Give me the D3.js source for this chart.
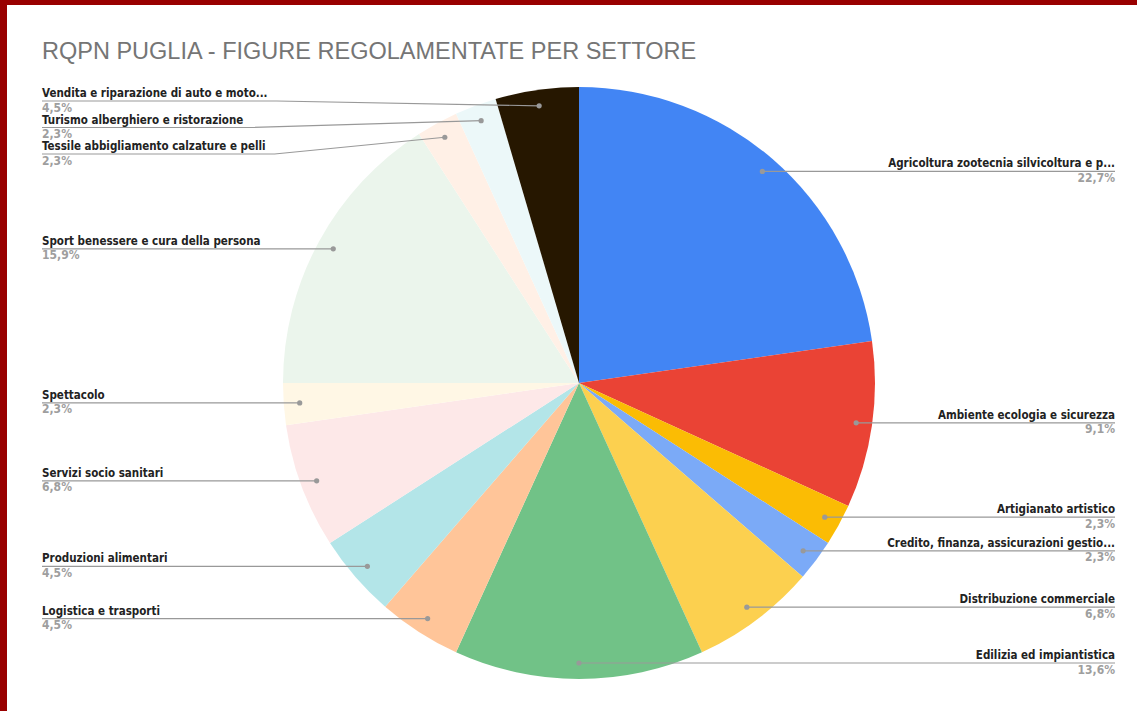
<!DOCTYPE html>
<html>
<head>
<meta charset="utf-8">
<script src="https://cdn.jsdelivr.net/npm/d3@7"></script>
<style>
  body { margin: 0; background: #fff; }
  svg { display: block; }
</style>
</head>
<body>
<svg width="1137" height="711"></svg>
<script>
// Sectors, clockwise from the top
const categories = [
  "Agricoltura zootecnia silvicoltura e p...",
  "Ambiente ecologia e sicurezza",
  "Artigianato artistico",
  "Credito, finanza, assicurazioni gestio...",
  "Distribuzione commerciale",
  "Edilizia ed impiantistica",
  "Logistica e trasporti",
  "Produzioni alimentari",
  "Servizi socio sanitari",
  "Spettacolo",
  "Sport benessere e cura della persona",
  "Tessile abbigliamento calzature e pelli",
  "Turismo alberghiero e ristorazione",
  "Vendita e riparazione di auto e moto..."
];
// number of regulated figures per sector
const counts = [10, 4, 1, 1, 3, 6, 2, 2, 3, 1, 7, 1, 1, 2];
const colors = [
  "#4285f4", "#ea4335", "#fbbc04", "#7baaf7", "#fcd04f", "#71c287", "#ffc599",
  "#b3e5e8", "#fde8e8", "#fff7e5", "#ebf5ec", "#fff0e6", "#ecf8f9", "#261700"
];

const svg = d3.select("svg"),
  cx = 579, cy = 383,
  radius = 296,
  dotRadius = 280,
  gap = 26.5;

// frame
svg.append("rect").attr("x", 0).attr("y", 0).attr("width", 7).attr("height", 711).attr("fill", "#990000");
svg.append("rect").attr("x", 0).attr("y", 0).attr("width", 1137).attr("height", 5).attr("fill", "#990000");

svg.append("text")
  .attr("x", 42)
  .attr("y", 59)
  .attr("font-family", "Liberation Sans, Arial")
  .style("font-size", "23.5px")
  .attr("fill", "#757575")
  .text("RQPN PUGLIA - FIGURE REGOLAMENTATE PER SETTORE");

const total = d3.sum(counts);
const color = d3.scaleOrdinal(categories, colors);

const pie = d3.pie().sort(null).value(d => d.value);
const data = pie(categories.map((c, i) => ({ name: c, value: counts[i] })));

const arc = d3.arc().innerRadius(0).outerRadius(radius);
const dotArc = d3.arc().innerRadius(dotRadius).outerRadius(dotRadius);

const g = svg.append("g").attr("transform", "translate(" + cx + "," + cy + ")");

g.selectAll("path.slice")
  .data(data)
  .enter()
  .append("path")
  .attr("class", "slice")
  .attr("fill", d => color(d.data.name))
  .attr("d", arc);

// label layout: cluster overlapping labels, center them, keep inside pie height
function layout(items) {
  items.sort((a, b) => a.dy - b.dy);
  let clusters = items.map(d => ({ items: [d] }));
  const minY = cy - radius + 14, maxY = cy + radius - 13;
  function place(c) {
    const n = c.items.length;
    let start = d3.mean(c.items, d => d.dy) - (n - 1) * gap / 2;
    start = Math.max(minY, Math.min(start, maxY - (n - 1) * gap));
    c.items.forEach((d, i) => d.ly = start + i * gap);
  }
  clusters.forEach(place);
  let merged = true;
  while (merged) {
    merged = false;
    for (let i = 0; i < clusters.length - 1; i++) {
      const a = clusters[i], b = clusters[i + 1];
      if (b.items[0].ly - a.items[a.items.length - 1].ly < gap) {
        a.items = a.items.concat(b.items);
        clusters.splice(i + 1, 1);
        place(a);
        merged = true;
        break;
      }
    }
  }
}

const labels = data.map(d => {
  const c = dotArc.centroid(d);
  const mid = (d.startAngle + d.endAngle) / 2;
  return {
    name: d.data.name,
    pct: (d.data.value / total * 100).toFixed(1).replace(".", ",") + "%",
    dx: cx + c[0], dy: cy + c[1],
    left: mid > Math.PI + 1e-6
  };
});
layout(labels.filter(d => d.left));
layout(labels.filter(d => !d.left));

const lg = svg.append("g")
  .attr("font-family", "DejaVu Sans Condensed, DejaVu Sans, Verdana")
  .attr("font-weight", "bold")
  .style("font-size", "11.5px");

labels.forEach(d => {
  const x = d.left ? 42 : 1115;
  const name = lg.append("text")
    .attr("x", x).attr("y", d.ly - 4)
    .attr("text-anchor", d.left ? "start" : "end")
    .attr("fill", "#222")
    .text(d.name);
  lg.append("text")
    .attr("x", x).attr("y", d.ly + 10.5)
    .attr("text-anchor", d.left ? "start" : "end")
    .attr("fill", "#9e9e9e")
    .style("font-size", "12px")
    .text(d.pct);
  const w = name.node().getComputedTextLength();
  let path;
  if (d.left) {
    const kink = Math.min(42 + w + 9, d.dx);
    path = "M42," + d.ly + "H" + kink + "L" + d.dx + "," + d.dy;
  } else {
    const kink = Math.max(1115 - w - 9, d.dx);
    path = "M1115," + d.ly + "H" + kink + "L" + d.dx + "," + d.dy;
  }
  lg.append("path").attr("d", path).attr("fill", "none").attr("stroke", "#999").attr("stroke-width", 1.2);
  lg.append("circle").attr("cx", d.dx).attr("cy", d.dy).attr("r", 2.6).attr("fill", "#999");
});
</script>
</body>
</html>
